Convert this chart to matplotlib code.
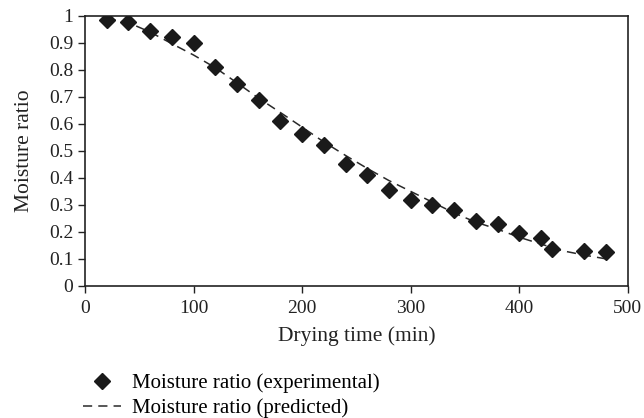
import matplotlib
matplotlib.use("Agg")
import matplotlib.pyplot as plt

plt.rcParams['font.family'] = ['Liberation Serif', 'DejaVu Serif']

# Experimental data
exp_time = [20, 40, 60, 80, 100, 120, 140, 160, 180, 200, 220, 240, 260, 280,
            300, 320, 340, 360, 380, 400, 420, 430, 460, 480]
exp_mr = [0.985, 0.977, 0.945, 0.922, 0.900, 0.809, 0.748, 0.688, 0.610, 0.563,
          0.522, 0.453, 0.411, 0.357, 0.317, 0.300, 0.281, 0.242, 0.230, 0.196,
          0.178, 0.136, 0.130, 0.125]

# Predicted curve
pred_time = [20, 40, 60, 80, 100, 120, 140, 160, 180, 200, 220, 240, 260, 280,
             300, 320, 340, 360, 380, 400, 420, 440, 460, 480]
pred_mr = [0.990, 0.975, 0.940, 0.897, 0.855, 0.808, 0.752, 0.695, 0.642, 0.588,
           0.533, 0.483, 0.435, 0.390, 0.350, 0.310, 0.270, 0.236, 0.210, 0.180,
           0.155, 0.130, 0.114, 0.100]

xticks = [0, 100, 200, 300, 400, 500]
yticks = [0, 0.1, 0.2, 0.3, 0.4, 0.5, 0.6, 0.7, 0.8, 0.9, 1]
ytick_labels = ['0', '0.1', '0.2', '0.3', '0.4', '0.5', '0.6', '0.7', '0.8', '0.9', '1']

fig = plt.figure(figsize=(6.44, 4.18), dpi=100)
ax = fig.add_axes([0.132, 0.316, 0.843, 0.646])

ax.plot(pred_time, pred_mr, linestyle=(0, (6, 4)), color='#2a2a2a', linewidth=1.1,
        label='Moisture ratio (predicted)', zorder=2)
ax.plot(exp_time, exp_mr, linestyle='none', marker='D', markersize=8,
        color='#1a1a1a', label='Moisture ratio (experimental)', zorder=3)

ax.set_xlim(0, 500)
ax.set_ylim(0, 1)
ax.set_xticks(xticks)
ax.set_yticks(yticks)
ax.set_yticklabels(ytick_labels)
ax.tick_params(direction='out', length=5, width=1.0, labelsize=14, colors='#222222')
ax.tick_params(axis='x', pad=5)
for s in ax.spines.values():
    s.set_linewidth(1.2)
    s.set_color('#222222')

ax.set_xlabel('Drying time (min)', fontsize=15.5, color='#222222', labelpad=7)
ax.set_ylabel('Moisture ratio', fontsize=15.5, color='#222222', labelpad=11)

handles, labels = ax.get_legend_handles_labels()
leg = fig.legend(handles[::-1], labels[::-1], loc='upper left',
                 bbox_to_anchor=(0.129, 0.107), frameon=False, fontsize=15,
                 handlelength=1.8, handletextpad=0.55, labelspacing=0.25,
                 borderpad=0, borderaxespad=0)

fig.savefig('out.png', dpi=100)
